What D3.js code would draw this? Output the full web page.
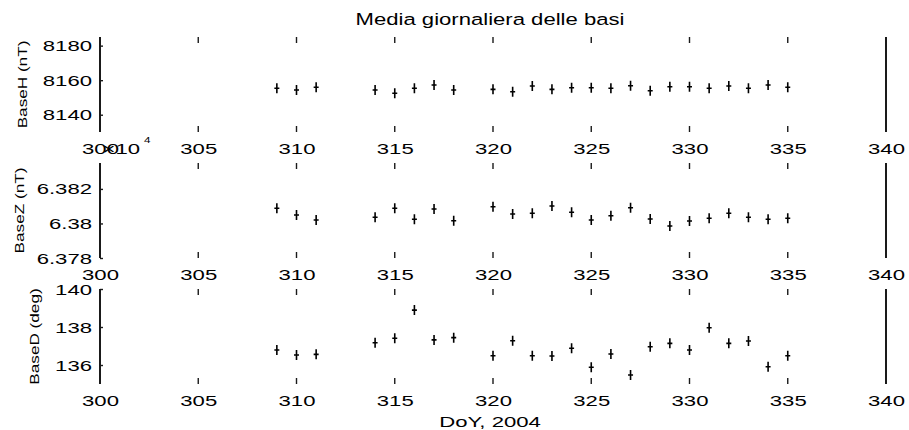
<!DOCTYPE html>
<html>
<head>
<meta charset="utf-8">
<script src="https://cdn.jsdelivr.net/npm/d3@7"></script>
<style>
  html, body { margin: 0; background: #fff; }
  svg { display: block; }
  text { font-family: "Liberation Sans", Arial, Helvetica, sans-serif; fill: #000; }
</style>
</head>
<body>
<svg id="chart" width="909" height="430"></svg>
<script>
// Day of year (2004) of each daily mean
const days = [309, 310, 311, 314, 315, 316, 317, 318, 320, 321, 322, 323,
              324, 325, 326, 327, 328, 329, 330, 331, 332, 333, 334, 335];

// Daily mean of the horizontal component H (nT)
const baseH = [8155.3, 8154.3, 8155.9, 8154.3, 8152.4, 8155.3, 8157.2, 8154.3,
               8154.7, 8153.3, 8156.6, 8154.7, 8155.6, 8155.6, 8155.3, 8156.8,
               8153.9, 8156.2, 8156.2, 8155.3, 8156.6, 8155.3, 8157.2, 8155.9];

// Daily mean of the vertical component Z (nT)
const baseZ = [63808.8, 63804.9, 63802.0, 63803.6, 63808.8, 63802.4, 63808.4, 63801.6,
               63809.7, 63805.5, 63805.9, 63810.1, 63806.5, 63802.0, 63804.5, 63809.1,
               63802.6, 63798.5, 63801.4, 63803.0, 63805.9, 63803.6, 63802.4, 63803.0];

// Daily mean of the declination D (deg)
const baseD = [136.79, 136.53, 136.56, 137.17, 137.41, 138.89, 137.32, 137.44,
               136.49, 137.28, 136.49, 136.47, 136.88, 135.88, 136.58, 135.47,
               136.96, 137.14, 136.79, 137.96, 137.14, 137.26, 135.91, 136.49];

// Axis limits and tick values
const xDomain = [300, 340];
const xTicks = [300, 305, 310, 315, 320, 325, 330, 335, 340];
const hDomain = [8130, 8185];
const hTicks = [8140, 8160, 8180];
const zDomain = [63780, 63835];
const zTicks = [63780, 63800, 63820];
const dDomain = [135, 140];
const dTicks = [136, 138, 140];

const titleText = "Media giornaliera delle basi";
const xLabelText = "DoY, 2004";
const yLabels = ["BaseH (nT)", "BaseZ (nT)", "BaseD (deg)"];

// ---- layout ----
const left = 100, right = 886;
const panelTops = [37, 163, 289];
const panelH = 95;
const wide = 1.58;          // horizontal stretch of the axis font
const ink = "#1a1a1a";

const svg = d3.select("#chart");
const x = d3.scaleLinear().domain(xDomain).range([left, right]);

const panels = [
  { values: baseH, domain: hDomain, ticks: hTicks, fmt: d => String(d),
    label: yLabels[0], labelX: 27, labelDy: 0 },
  { values: baseZ, domain: zDomain, ticks: zTicks, fmt: d => String(+(d / 1e4).toFixed(4)),
    label: yLabels[1], labelX: 23.5, labelDy: 0 },
  { values: baseD, domain: dDomain, ticks: dTicks, fmt: d => String(d),
    label: yLabels[2], labelX: 38.5, labelDy: 0 }
];

panels.forEach((p, i) => {
  const top = panelTops[i], bottom = top + panelH;
  const y = d3.scaleLinear().domain(p.domain).range([bottom, top]);
  const g = svg.append("g");

  // left and right frame lines
  g.selectAll("line.frame")
    .data(xDomain)
    .join("line")
    .attr("class", "frame")
    .attr("x1", d => x(d)).attr("x2", d => x(d))
    .attr("y1", top).attr("y2", bottom)
    .attr("stroke", ink).attr("stroke-width", 2);

  // x tick marks on the top and bottom edges
  const inner = xTicks.slice(1, -1);
  g.selectAll("line.ttop")
    .data(inner)
    .join("line")
    .attr("x1", d => x(d)).attr("x2", d => x(d))
    .attr("y1", top).attr("y2", top + 6)
    .attr("stroke", ink).attr("stroke-width", 1.4);
  g.selectAll("line.tbot")
    .data(inner)
    .join("line")
    .attr("x1", d => x(d)).attr("x2", d => x(d))
    .attr("y1", bottom - 6).attr("y2", bottom)
    .attr("stroke", ink).attr("stroke-width", 1.4);

  // y axis
  const ya = g.append("g")
    .attr("transform", `translate(${left},0)`)
    .call(d3.axisLeft(y).tickValues(p.ticks).tickSize(-3).tickFormat(p.fmt));
  ya.select(".domain").remove();
  ya.selectAll(".tick line").attr("stroke", ink).attr("stroke-width", 1.4);
  ya.selectAll(".tick text")
    .attr("x", 0).attr("dy", null).attr("y", 5)
    .attr("transform", `translate(-8,0) scale(${wide},1)`)
    .attr("font-size", 14)
    .attr("font-family", null)
    .attr("text-anchor", "end");

  // x axis labels
  const xa = g.append("g")
    .attr("transform", `translate(0,${bottom})`)
    .call(d3.axisBottom(x).tickValues(xTicks).tickSize(0));
  xa.select(".domain").remove();
  xa.selectAll(".tick line").remove();
  xa.selectAll(".tick text")
    .attr("y", 22).attr("dy", null)
    .attr("transform", `scale(${wide},1)`)
    .attr("font-size", 14)
    .attr("font-family", null);

  // data markers
  g.selectAll("path.mk")
    .data(days.map((d, k) => [d, p.values[k]]))
    .join("path")
    .attr("class", "mk")
    .attr("d", ([d, v]) => {
      const cx = x(d), cy = y(v);
      return `M${cx - 2.5},${cy}h5M${cx},${cy - 5}v10`;
    })
    .attr("stroke", "#000").attr("stroke-width", 1.6).attr("fill", "none");

  // y label
  svg.append("text")
    .attr("transform", `translate(${p.labelX},${(top + bottom) / 2}) rotate(-90) scale(1.32,1)`)
    .attr("text-anchor", "middle")
    .attr("font-size", 13)
    .text(p.label);
});

// exponent of the BaseZ axis
const expo = svg.append("g");
expo.append("text")
  .attr("transform", `translate(140,${panelTops[0] + panelH + 22}) scale(${wide},1)`)
  .attr("text-anchor", "end")
  .attr("font-size", 14)
  .text("\u00d710");
expo.append("text")
  .attr("transform", `translate(144,${panelTops[0] + panelH + 11}) scale(1.3,1)`)
  .attr("font-size", 9)
  .text("4");

// title and x label
svg.append("text")
  .attr("transform", `translate(490,25) scale(1.3,1)`)
  .attr("text-anchor", "middle")
  .attr("font-size", 17)
  .text(titleText);

svg.append("text")
  .attr("transform", `translate(490,427) scale(${wide},1)`)
  .attr("text-anchor", "middle")
  .attr("font-size", 14)
  .text(xLabelText);
</script>
</body>
</html>
